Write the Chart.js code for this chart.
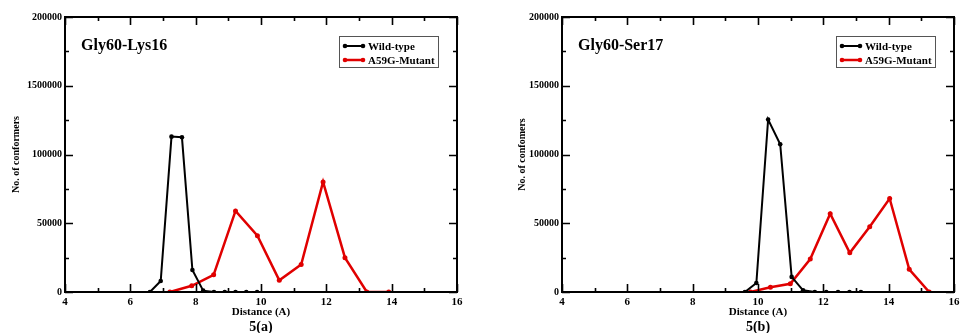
<!DOCTYPE html>
<html>
<head>
<meta charset="utf-8">
<script src="https://cdn.jsdelivr.net/npm/chart.js@4.4.1/dist/chart.umd.min.js"></script>
<style>
  html, body { margin: 0; padding: 0; background: #fff; }
  #wrap { position: relative; width: 968px; height: 333px; }
  canvas { position: absolute; top: 0; }
</style>
</head>
<body>
<div id="wrap">
  <canvas id="chartA" width="484" height="333" style="left:0"></canvas>
  <canvas id="chartB" width="484" height="333" style="left:484px"></canvas>
</div>
<script>
// ---------------------------------------------------------------------------
// Data
// ---------------------------------------------------------------------------
const SERIES_NAMES = ["Wild-type", "A59G-Mutant"];

// 5(a) Gly60-Lys16
const wtA_x = [6.6, 6.93, 7.26, 7.58, 7.9, 8.23, 8.56, 8.89, 9.22, 9.55, 9.88];
const wtA_y = [0, 8000, 113000, 112500, 16000, 1000, 0, 0, 0, 0, 0];
const muA_x = [7.21, 7.88, 8.55, 9.22, 9.89, 10.56, 11.23, 11.9, 12.57, 13.24, 13.91];
const muA_y = [0, 4500, 12500, 59000, 41000, 8500, 20000, 80000, 25000, 0, 0];

// 5(b) Gly60-Ser17
const wtB_x = [9.6, 9.95, 10.31, 10.68, 11.03, 11.38, 11.74, 12.09, 12.45, 12.8, 13.15];
const wtB_y = [0, 6500, 125500, 107500, 11000, 1200, 0, 0, 0, 0, 0];
const muB_x = [9.77, 10.38, 10.99, 11.6, 12.21, 12.81, 13.42, 14.03, 14.63, 15.24];
const muB_y = [0, 3500, 6000, 24000, 57000, 28500, 47500, 68000, 16500, 0];

// tick labels as printed (panel a has the "1500000" typo)
const yTicksA = ["0", "50000", "100000", "1500000", "200000"];
const yTicksB = ["0", "50000", "100000", "150000", "200000"];

const FONT = "'Liberation Serif', 'Times New Roman', serif";

function pts(xs, ys) {
  return xs.map((x, i) => ({ x, y: ys[i] }));
}

// ---------------------------------------------------------------------------
// Decorations: frame, inward ticks, titles, legend
// ---------------------------------------------------------------------------
const decor = {
  id: "decor",
  afterDraw(chart) {
    const o = chart.options.plugins.decor;
    const ctx = chart.ctx;
    const a = chart.chartArea;
    const xs = chart.scales.x, ys = chart.scales.y;
    ctx.save();
    ctx.strokeStyle = "#000";
    ctx.lineWidth = 2;
    ctx.strokeRect(a.left, a.top, a.right - a.left, a.bottom - a.top);

    ctx.lineWidth = 1.6;
    ctx.beginPath();
    for (let v = 4; v <= 16; v += 1) {
      const px = Math.round(xs.getPixelForValue(v)) + 0.5;
      const len = v % 2 === 0 ? 8 : 4;
      ctx.moveTo(px, a.bottom); ctx.lineTo(px, a.bottom - len);
      ctx.moveTo(px, a.top); ctx.lineTo(px, a.top + len);
    }
    for (let v = 0; v <= 200000; v += 25000) {
      const py = Math.round(ys.getPixelForValue(v)) + 0.5;
      const len = v % 50000 === 0 ? 8 : 4;
      ctx.moveTo(a.left, py); ctx.lineTo(a.left + len, py);
      ctx.moveTo(a.right, py); ctx.lineTo(a.right - len, py);
    }
    ctx.stroke();

    ctx.fillStyle = "#000";
    // panel title
    ctx.font = "bold 16px " + FONT;
    ctx.textAlign = "left";
    ctx.textBaseline = "alphabetic";
    ctx.fillText(o.title, a.left + o.titleDx, 50);

    // x axis title and caption
    const cx = (a.left + a.right) / 2;
    ctx.textAlign = "center";
    ctx.textBaseline = "middle";
    ctx.font = "bold 11px " + FONT;
    ctx.fillText("Distance (A)", cx, 312);
    ctx.font = "bold 14px " + FONT;
    ctx.fillText(o.caption, cx, 327);

    // y axis title
    ctx.save();
    ctx.translate(o.yTitleX, (a.top + a.bottom) / 2);
    ctx.rotate(-Math.PI / 2);
    ctx.font = "bold 10px " + FONT;
    ctx.fillText(o.yTitle, 0, 0);
    ctx.restore();

    // legend box
    const lx = a.right - 118, ly = 36, lw = 99, lh = 31;
    ctx.fillStyle = "#fff";
    ctx.fillRect(lx, ly, lw, lh);
    ctx.strokeStyle = "#555";
    ctx.lineWidth = 1;
    ctx.strokeRect(lx + 0.5, ly + 0.5, lw, lh);
    chart.data.datasets.forEach((ds, i) => {
      const y = ly + 10 + i * 14;
      ctx.strokeStyle = ds.borderColor;
      ctx.fillStyle = ds.borderColor;
      ctx.lineWidth = ds.borderWidth;
      ctx.beginPath();
      ctx.moveTo(lx + 6, y); ctx.lineTo(lx + 24, y);
      ctx.stroke();
      [lx + 6, lx + 24].forEach(px => {
        ctx.beginPath(); ctx.arc(px, y, 2.3, 0, Math.PI * 2); ctx.fill();
      });
      ctx.fillStyle = "#000";
      ctx.font = "bold 11px " + FONT;
      ctx.textAlign = "left";
      ctx.textBaseline = "middle";
      ctx.fillText(ds.label, lx + 29, y + 1);
    });
    ctx.restore();
  }
};

// ---------------------------------------------------------------------------
// Panel factory
// ---------------------------------------------------------------------------
function makePanel(canvasId, wt, mu, yLabels, plotLeft, plotRight, deco) {
  return new Chart(document.getElementById(canvasId), {
    type: "line",
    data: {
      datasets: [
        {
          label: SERIES_NAMES[0],
          data: wt,
          borderColor: "#000000",
          backgroundColor: "#000000",
          borderWidth: 2,
          pointRadius: 2.3,
          pointBorderWidth: 0,
          tension: 0,
        },
        {
          label: SERIES_NAMES[1],
          data: mu,
          borderColor: "#e00000",
          backgroundColor: "#e00000",
          borderWidth: 2.5,
          pointRadius: 2.5,
          pointBorderWidth: 0,
          tension: 0,
        }
      ]
    },
    options: {
      responsive: false,
      animation: false,
      layout: { padding: { top: 17, right: 484 - plotRight, bottom: 0, left: 0 } },
      plugins: {
        legend: { display: false },
        tooltip: { enabled: false },
        decor: deco,
      },
      scales: {
        x: {
          type: "linear",
          min: 4, max: 16,
          grid: { display: false, drawTicks: false },
          border: { display: false },
          ticks: {
            stepSize: 2, padding: 4, color: "#000",
            font: { family: FONT, size: 11, weight: "bold" },
            maxRotation: 0,
          },
          afterFit: s => { s.height = 41; },
        },
        y: {
          min: 0, max: 200000,
          grid: { display: false, drawTicks: false },
          border: { display: false },
          ticks: {
            stepSize: 50000, padding: 3, color: "#000",
            font: { family: FONT, size: 10, weight: "bold" },
            callback: (v, i) => yLabels[i],
          },
          afterFit: s => { s.width = plotLeft; },
        }
      }
    },
    plugins: [decor]
  });
}

makePanel("chartA", pts(wtA_x, wtA_y), pts(muA_x, muA_y), yTicksA, 65, 457,
  { title: "Gly60-Lys16", caption: "5(a)", yTitle: "No. of conformers", yTitleX: 16, titleDx: 16 });
makePanel("chartB", pts(wtB_x, wtB_y), pts(muB_x, muB_y), yTicksB, 78, 470,
  { title: "Gly60-Ser17", caption: "5(b)", yTitle: "No. of confomers", yTitleX: 38, titleDx: 16 });
</script>
</body>
</html>
